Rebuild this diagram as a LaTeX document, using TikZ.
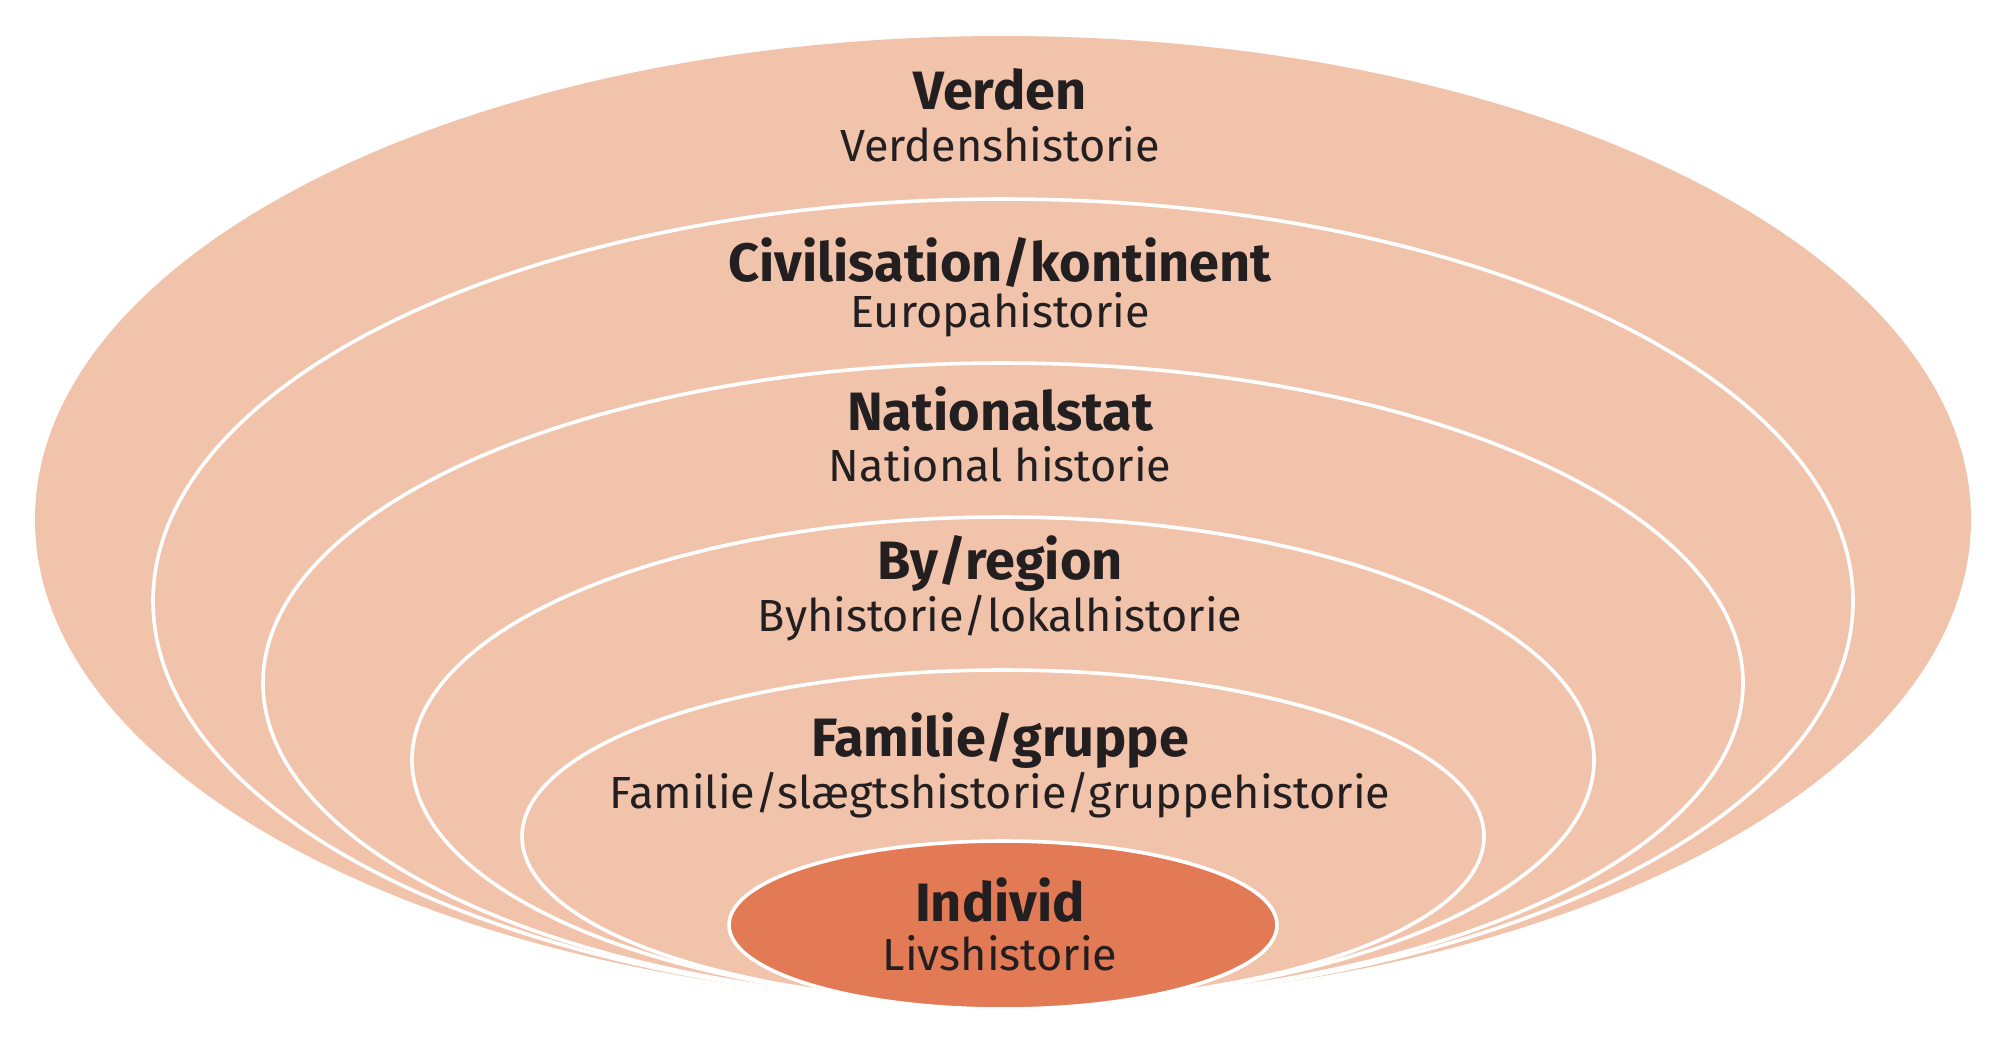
\documentclass[tikz,border=0pt]{standalone}
\usepackage{fontspec}
\setmainfont{Fira Sans}
\definecolor{layer}{HTML}{F1C3AB}
\definecolor{core}{HTML}{E27A55}
\definecolor{ink}{HTML}{231F20}
\begin{document}
\begin{tikzpicture}[x=0.5pt,y=-0.5pt,
  layerline/.style={fill=layer,draw=white,line width=1.8pt},
  title/.style={font=\fontsize{27}{32}\selectfont\bfseries,text=ink,inner sep=0pt,anchor=center},
  sub/.style={font=\fontsize{22.5}{27}\selectfont,text=ink,inner sep=0pt,anchor=center}]
\useasboundingbox[fill=white] (0,0) rectangle (2000,1062);
% layers, all touching at the bottom
\fill[layer] (1003,519.5) ellipse [x radius=968, y radius=483.5];
\path[layerline] (1003,601) ellipse [x radius=850, y radius=402];
\path[layerline] (1003,683) ellipse [x radius=740, y radius=320];
\path[layerline] (1003,760) ellipse [x radius=591, y radius=243];
\path[layerline] (1003,836.5) ellipse [x radius=481, y radius=166.5];
\path[fill=core,draw=white,line width=1.8pt] (1003,925) ellipse [x radius=274, y radius=84];
% texts
\node[title] (t1) at (1000,89) {Verden};
\node[sub]   (s1) at (1000,144) {Verdenshistorie};
\node[title] (t2) at (1000,262) {Civilisation/kontinent};
\node[sub]   (s2) at (1000,315) {Europahistorie};
\node[title] (t3) at (1000,409) {Nationalstat};
\node[sub]   (s3) at (1000,464) {National historie};
\node[title] (t4) at (1000,563) {By/region};
\node[sub]   (s4) at (1000,618) {Byhistorie/lokalhistorie};
\node[title] (t5) at (1000,740) {Familie/gruppe};
\node[sub]   (s5) at (1000,795) {Familie/slægtshistorie/gruppehistorie};
\node[title] (t6) at (1000,900) {Individ};
\node[sub]   (s6) at (1000,953) {Livshistorie};
\end{tikzpicture}
\end{document}
